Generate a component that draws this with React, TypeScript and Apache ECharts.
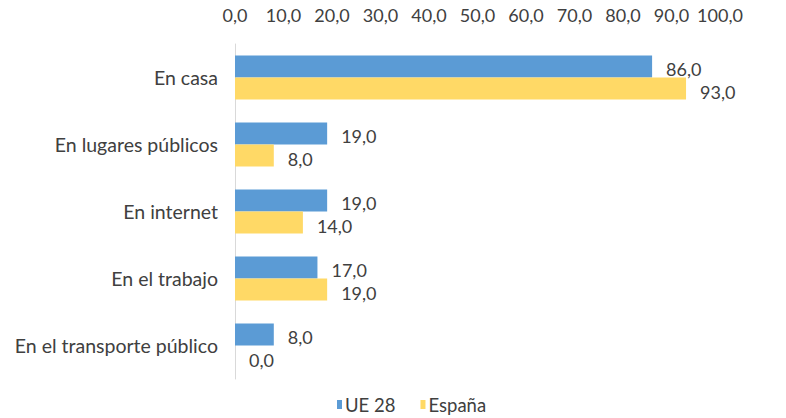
import React, { useEffect, useRef } from "react";
import * as echarts from "echarts";

const categories = [
  "En casa",
  "En lugares públicos",
  "En internet",
  "En el trabajo",
  "En el transporte público",
];
const ue28 = [86.0, 19.0, 19.0, 17.0, 8.0];
const espana = [93.0, 8.0, 14.0, 19.0, 0.0];
const seriesNames = ["UE 28", "España"];

const fmt = (v: number) => v.toFixed(1).replace(".", ",");

export default function App() {
  const ref = useRef<HTMLDivElement>(null);
  useEffect(() => {
    if (!ref.current) return;
    const chart = echarts.init(ref.current, undefined, { renderer: "svg" });
    const font = "Lato, 'Open Sans', sans-serif";
    const textColor = "#404040";
    const labelStyle = {
      show: true,
      position: "right",
      distance: 14,
      offset: [0, 3],
      color: textColor,
      fontSize: 18,
      fontFamily: font,
      formatter: (p: any) => fmt(p.value),
    };
    chart.setOption({
      animation: false,
      textStyle: { fontFamily: font },
      grid: { left: 235, right: 66, top: 44, height: 335 },
      legend: {
        top: 390,
        left: 332,
        itemWidth: 5,
        itemHeight: 9,
        itemGap: 25,
        icon: "rect",
        textStyle: {
          color: textColor,
          fontSize: 18.5,
          fontFamily: font,
          padding: [0, 0, 0, -2],
        },
        data: seriesNames,
      },
      xAxis: {
        type: "value",
        position: "top",
        min: 0,
        max: 100,
        interval: 10,
        axisLine: { show: false },
        axisTick: { show: false },
        splitLine: { show: false },
        axisLabel: {
          color: textColor,
          fontSize: 18,
          fontFamily: font,
          margin: 20,
          formatter: (v: number) => fmt(v),
        },
      },
      yAxis: {
        type: "category",
        inverse: true,
        data: categories,
        axisLine: { show: true, lineStyle: { color: "#d9d9d9" } },
        axisTick: { show: false },
        axisLabel: { color: textColor, fontSize: 19.5, fontFamily: font, margin: 17 },
      },
      series: [
        {
          name: seriesNames[0],
          type: "bar",
          data: ue28,
          barGap: "0%",
          barCategoryGap: "34%",
          itemStyle: { color: "#5B9BD5" },
          label: labelStyle,
        },
        {
          name: seriesNames[1],
          type: "bar",
          data: espana,
          barGap: "0%",
          barCategoryGap: "34%",
          itemStyle: { color: "#FFD966" },
          label: labelStyle,
        },
      ],
    });
    return () => chart.dispose();
  }, []);
  return (
    <div
      ref={ref}
      style={{ position: "absolute", left: 0, top: 0, width: 786, height: 418 }}
    />
  );
}
